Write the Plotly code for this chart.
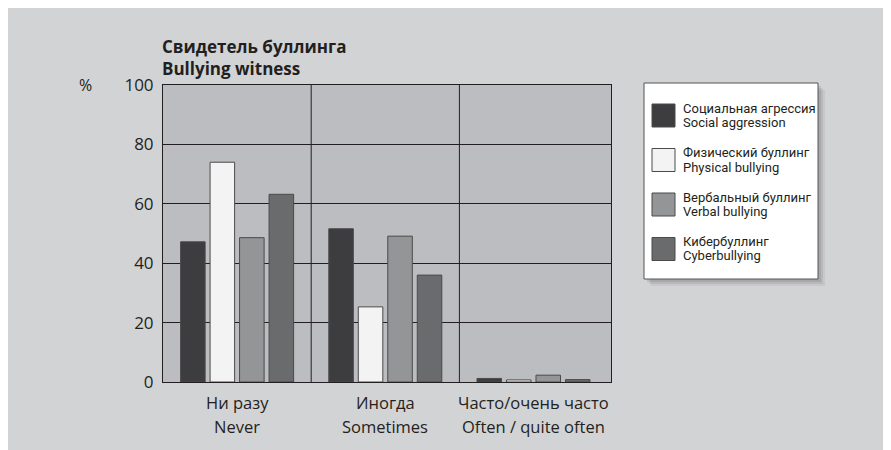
import plotly.graph_objects as go

# ---- data ----
categories = ["Never", "Sometimes", "Often"]
cat_labels_ru = ["Ни разу", "Иногда", "Часто/очень часто"]
cat_labels_en = ["Never", "Sometimes", "Often / quite often"]

series_ru = ["Социальная агрессия", "Физический буллинг", "Вербальный буллинг", "Кибербуллинг"]
series_en = ["Social aggression", "Physical bullying", "Verbal bullying", "Cyberbullying"]

social = [47.2, 51.6, 1.2]
physical = [74.0, 25.3, 0.7]
verbal = [48.6, 49.1, 2.3]
cyber = [63.2, 36.0, 0.8]
values = [social, physical, verbal, cyber]

y_ticks = [0, 20, 40, 60, 80, 100]

title_lines = ["Свидетель буллинга", "Bullying witness"]

# ---- style ----
colors = ["#3d3d3f", "#f3f3f3", "#949597", "#6a6b6d"]
OUTER = "#d2d3d5"
PLOTBG = "#bcbdc1"
INK = "#231f20"
MAIN_FONT = "Open Sans, Noto Sans, sans-serif"
COND_FONT = "Roboto, Liberation Sans Narrow, sans-serif"

W_FIG, H_FIG = 891, 450
OFF = 8  # page body margin
# plot area in screen pixels
L, R, T, B = 163, 611, 85, 382
PW, PH = R - L, B - T


def px(x):
    return (x - L) / PW


def py(y):
    return (B - y) / PH


fig = go.Figure()
for name, vals, col in zip(series_en, values, colors):
    fig.add_trace(go.Bar(
        x=categories, y=vals, name=name,
        marker=dict(color=col, line=dict(color="#4a4a4a", width=1)),
        showlegend=False,
    ))

shapes = []
# category separators
for sep in [0.5, 1.5]:
    shapes.append(dict(type="line", xref="x", yref="paper", x0=sep, x1=sep, y0=0, y1=1,
                       line=dict(color=INK, width=1)))

# legend box with soft shadow
bx0, bx1, by0, by1 = 644, 818, 83, 279
for off, a in [(7, 0.05), (5, 0.07), (3, 0.09)]:
    shapes.append(dict(type="rect", xref="paper", yref="paper",
                       x0=px(bx0 + off), x1=px(bx1 + off), y0=py(by1 + off), y1=py(by0 + off),
                       fillcolor=f"rgba(0,0,0,{a})", line=dict(width=0)))
shapes.append(dict(type="rect", xref="paper", yref="paper",
                   x0=px(bx0), x1=px(bx1), y0=py(by1), y1=py(by0),
                   fillcolor="white", line=dict(color="#555555", width=1)))

annotations = []
item_centers = [115.5, 160, 204.5, 249]
for i, (ru, en, col) in enumerate(zip(series_ru, series_en, colors)):
    cy = item_centers[i]
    shapes.append(dict(type="rect", xref="paper", yref="paper",
                       x0=px(652), x1=px(675), y0=py(cy + 11.5), y1=py(cy - 11.5),
                       fillcolor=col, line=dict(color="#4a4a4a", width=1)))
    annotations.append(dict(text=ru, xref="paper", yref="paper", x=px(681), y=py(cy - 7.5),
                            xanchor="left", yanchor="middle", showarrow=False,
                            font=dict(family=COND_FONT, size=13, color=INK)))
    annotations.append(dict(text=en, xref="paper", yref="paper", x=px(681), y=py(cy + 7),
                            xanchor="left", yanchor="middle", showarrow=False,
                            font=dict(family=COND_FONT, size=13, color=INK)))

# title (two lines, one text block)
annotations.append(dict(text="<br>".join(f"<b>{t}</b>" for t in title_lines),
                        xref="paper", yref="paper", align="left",
                        x=px(160), y=py(57), xanchor="left", yanchor="middle", showarrow=False,
                        font=dict(family=MAIN_FONT, size=17, color=INK)))
# percent sign
annotations.append(dict(text="%", xref="paper", yref="paper", x=px(85), y=py(85),
                        xanchor="center", yanchor="middle", showarrow=False,
                        font=dict(family=MAIN_FONT, size=16, color=INK)))
# category labels (two lines)
for c, ru, en in zip(categories, cat_labels_ru, cat_labels_en):
    annotations.append(dict(text=ru, xref="x", yref="paper", x=c, y=py(402),
                            xanchor="center", yanchor="middle", showarrow=False,
                            font=dict(family=MAIN_FONT, size=16.5, color=INK)))
    annotations.append(dict(text=en, xref="x", yref="paper", x=c, y=py(426),
                            xanchor="center", yanchor="middle", showarrow=False,
                            font=dict(family=MAIN_FONT, size=16.5, color=INK)))

fig.update_layout(
    width=W_FIG, height=H_FIG,
    margin=dict(l=L - OFF, r=W_FIG - (R - OFF), t=T - OFF, b=H_FIG - (B - OFF), pad=0),
    paper_bgcolor=OUTER, plot_bgcolor=PLOTBG,
    barmode="group", bargap=0.204, bargroupgap=0.168,
    shapes=shapes, annotations=annotations,
    showlegend=False,
    xaxis=dict(showticklabels=False, showgrid=False, ticks="", showline=True, mirror=True,
               linecolor=INK, linewidth=1, zeroline=False),
    yaxis=dict(range=[0, 100], tickvals=y_ticks, showgrid=True, gridcolor=INK, gridwidth=1,
               zeroline=False, showline=True, mirror=True, linecolor=INK, linewidth=1,
               ticks="", ticklabelstandoff=5,
               tickfont=dict(family=MAIN_FONT, size=17, color=INK)),
)

fig.write_html("out.html")
